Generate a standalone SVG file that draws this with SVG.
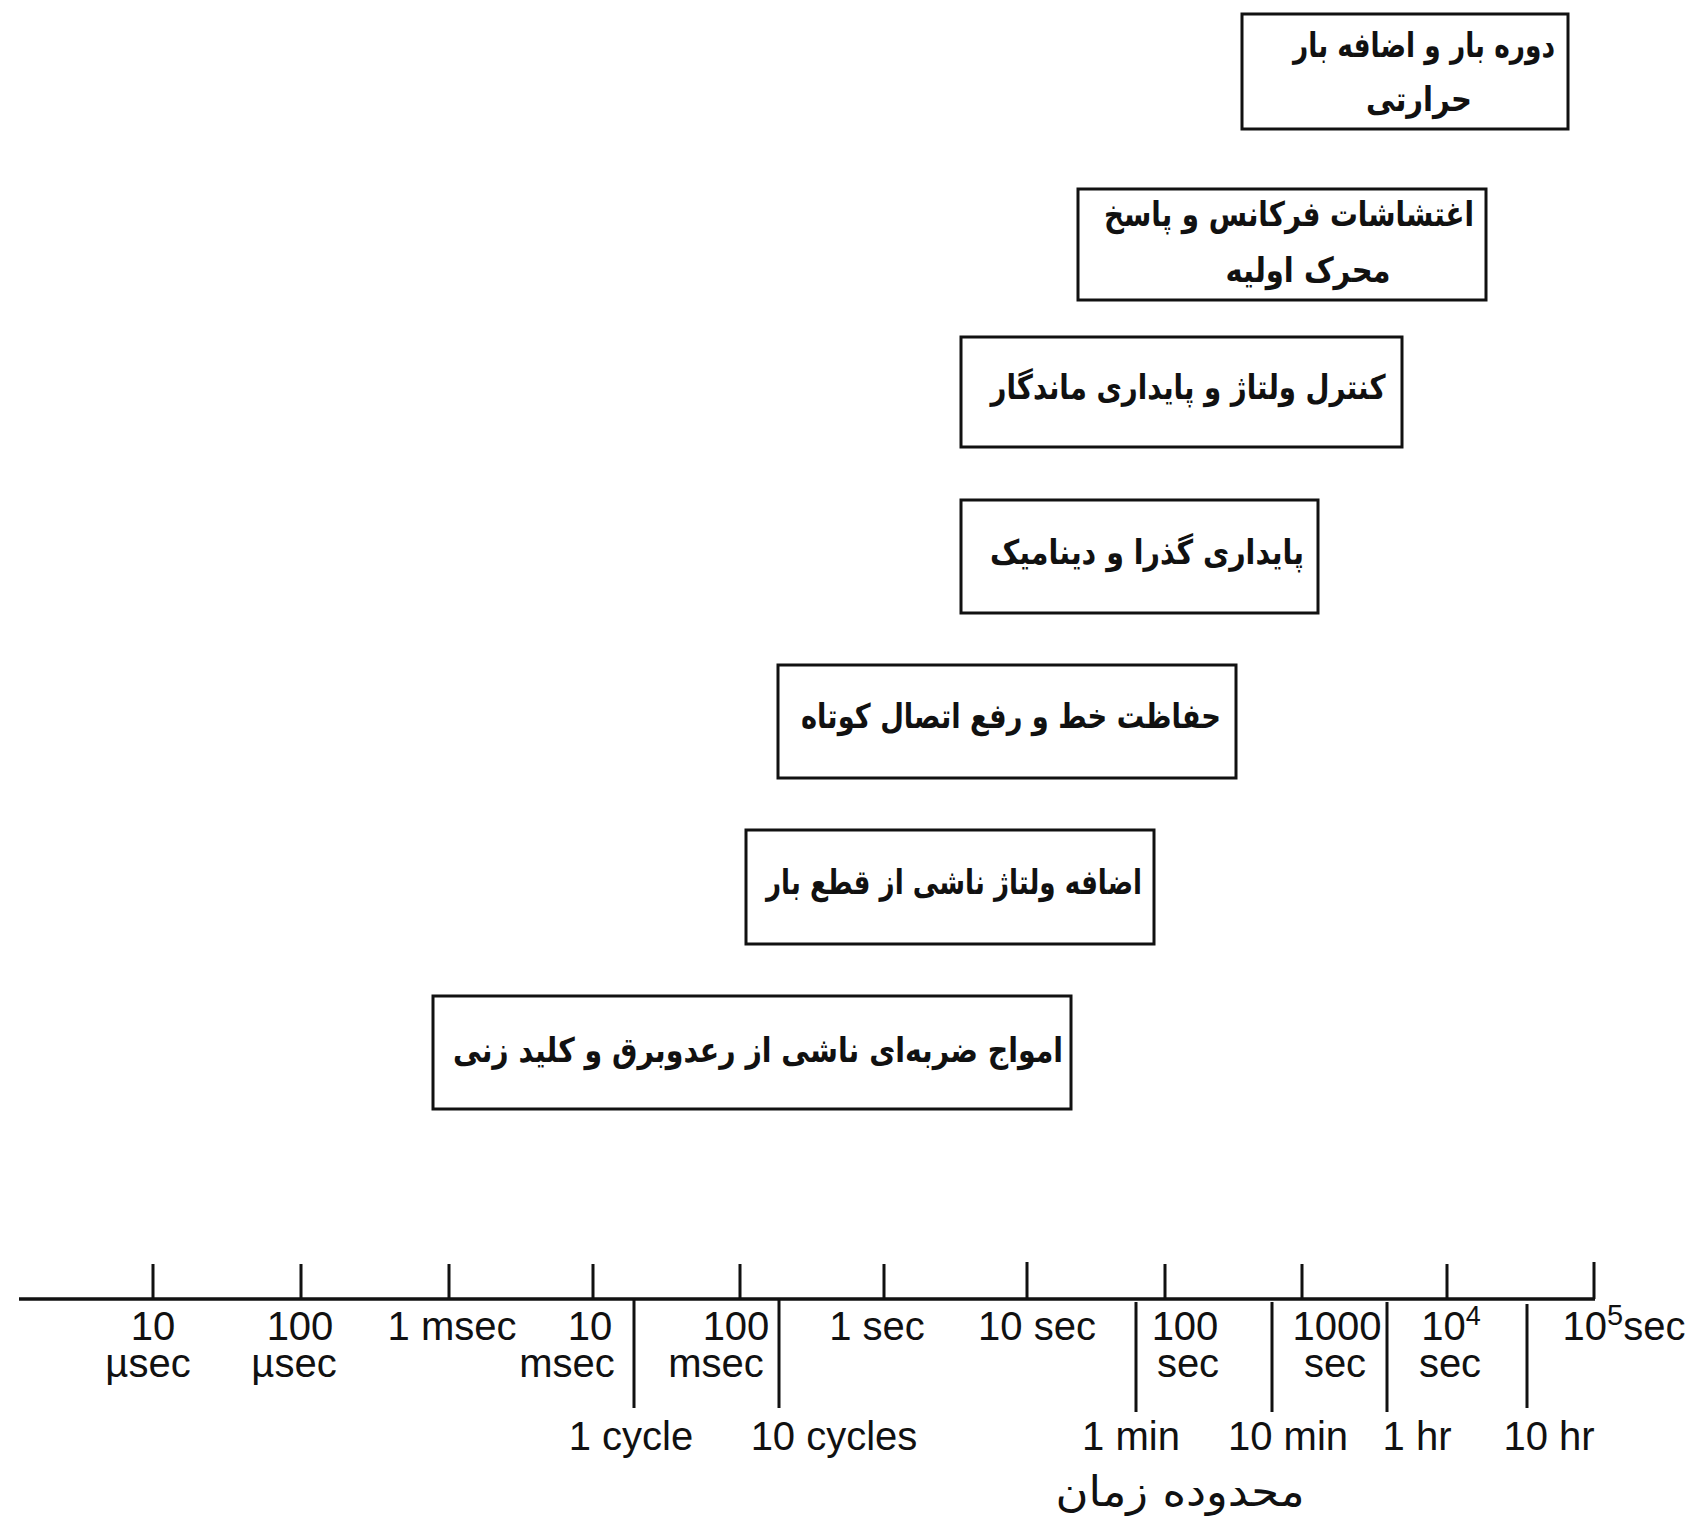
<svg xmlns="http://www.w3.org/2000/svg" width="1697" height="1518" viewBox="0 0 1697 1518">
<style>
.box{fill:#fff;stroke:#111;stroke-width:3}
.fa{font-family:"DejaVu Sans",sans-serif;font-weight:bold;font-size:34px;fill:#111;text-anchor:middle;direction:rtl}
.ax{stroke:#111;stroke-width:3.5;fill:none}
.tk{stroke:#111;stroke-width:3;fill:none}
.lb{font-family:"Liberation Sans",Arial,sans-serif;font-size:40px;fill:#111;text-anchor:middle}
.fat{font-family:"DejaVu Sans",sans-serif;font-size:42px;fill:#111;text-anchor:middle;direction:rtl}
</style>
<rect width="1697" height="1518" fill="#fff"/>
<g id="n1"><rect class="box" x="1242" y="14" width="326" height="115"/>
<text class="fa" x="1424" y="57" textLength="262" lengthAdjust="spacingAndGlyphs">دوره بار و اضافه بار</text>
<text class="fa" x="1419" y="111" textLength="106" lengthAdjust="spacingAndGlyphs">حرارتی</text></g>
<g id="n2"><rect class="box" x="1078" y="189" width="408" height="111"/>
<text class="fa" x="1289" y="226" textLength="370" lengthAdjust="spacingAndGlyphs">اغتشاشات فرکانس و پاسخ</text>
<text class="fa" x="1308" y="282" textLength="165" lengthAdjust="spacingAndGlyphs">محرک اولیه</text></g>
<g id="n3"><rect class="box" x="961" y="337" width="441" height="110"/>
<text class="fa" x="1188" y="399" textLength="395" lengthAdjust="spacingAndGlyphs">کنترل ولتاژ و پایداری ماندگار</text></g>
<g id="n4"><rect class="box" x="961" y="500" width="357" height="113"/>
<text class="fa" x="1147" y="564" textLength="314" lengthAdjust="spacingAndGlyphs">پایداری گذرا و دینامیک</text></g>
<g id="n5"><rect class="box" x="778" y="665" width="458" height="113"/>
<text class="fa" x="1011" y="728" textLength="420" lengthAdjust="spacingAndGlyphs">حفاظت خط و رفع اتصال کوتاه</text></g>
<g id="n6"><rect class="box" x="746" y="830" width="408" height="114"/>
<text class="fa" x="954" y="894" textLength="376" lengthAdjust="spacingAndGlyphs">اضافه ولتاژ ناشی از قطع بار</text></g>
<g id="n7"><rect class="box" x="433" y="996" width="638" height="113"/>
<text class="fa" x="758" y="1062" textLength="610" lengthAdjust="spacingAndGlyphs">امواج ضربه‌ای ناشی از رعدوبرق و کلید زنی</text></g>
<g id="connectors">
<path class="ax" d="M19 1299H1595"/>
<path class="tk" d="M153 1299V1264M301 1299V1264M449 1299V1264M593 1299V1264M740 1299V1264M884 1299V1264M1027 1299V1262M1165 1299V1264M1302 1299V1264M1447 1299V1264M1594 1299V1262"/>
<path class="tk" d="M634 1299V1408M779 1299V1408M1136 1302V1412M1272 1302V1412M1387 1302V1412M1527 1304V1408"/>
</g>
<g id="labels">
<text class="lb" x="153" y="1340">10</text><text class="lb" x="148" y="1377">µsec</text>
<text class="lb" x="300" y="1340">100</text><text class="lb" x="294" y="1377">µsec</text>
<text class="lb" x="452" y="1340">1 msec</text>
<text class="lb" x="590" y="1340">10</text><text class="lb" x="567" y="1377">msec</text>
<text class="lb" x="736" y="1340">100</text><text class="lb" x="716" y="1377">msec</text>
<text class="lb" x="877" y="1340">1 sec</text>
<text class="lb" x="1037" y="1340">10 sec</text>
<text class="lb" x="1185" y="1340">100</text><text class="lb" x="1188" y="1377">sec</text>
<text class="lb" x="1337" y="1340">1000</text><text class="lb" x="1335" y="1377">sec</text>
<text class="lb" x="1451" y="1340">10<tspan font-size="27" dy="-15">4</tspan></text><text class="lb" x="1450" y="1377">sec</text>
<text class="lb" x="1624" y="1340">10<tspan font-size="29" dy="-15">5</tspan><tspan dy="15">sec</tspan></text>
<text class="lb" x="631" y="1450">1 cycle</text>
<text class="lb" x="834" y="1450">10 cycles</text>
<text class="lb" x="1131" y="1450">1 min</text>
<text class="lb" x="1288" y="1450">10 min</text>
<text class="lb" x="1417" y="1450">1 hr</text>
<text class="lb" x="1549" y="1450">10 hr</text>
<text class="fat" x="1180" y="1506" textLength="249" lengthAdjust="spacingAndGlyphs">محدوده زمان</text>
</g>
</svg>
